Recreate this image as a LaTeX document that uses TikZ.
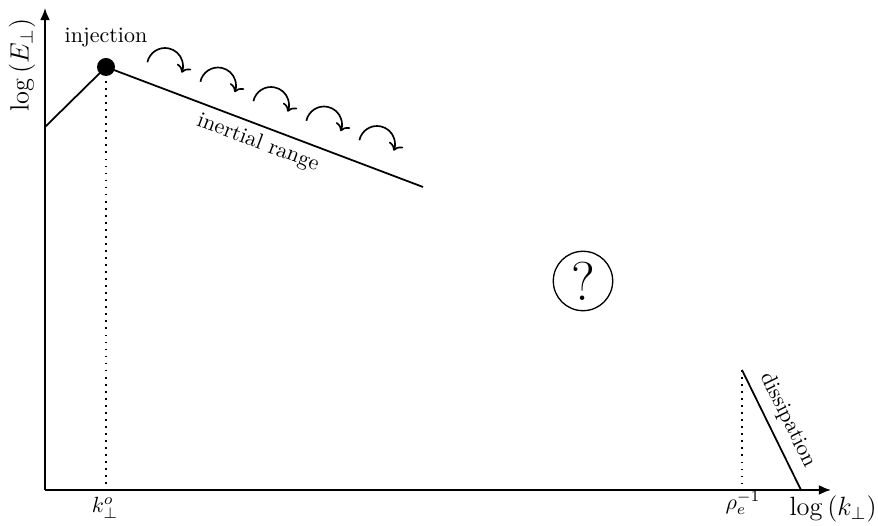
\documentclass[tikz,border=0pt]{standalone}
\usetikzlibrary{arrows.meta}
\begin{document}
\begin{tikzpicture}[x=0.4545pt,y=0.4545pt,
  axis/.style={thick,-{Latex[length=5.5pt,width=4.5pt]}},
  spec/.style={thick},
  guide/.style={thick,dash pattern=on 0.8pt off 2.4pt},
  cascade/.style={line width=0.75pt,-{To[length=3.2pt,width=7pt]}},
  lbl/.style={inner sep=0pt}]
\useasboundingbox (0,0) rectangle (878,526);
% points
\coordinate (O) at (45,36);
\coordinate (Ytip) at (45,518);
\coordinate (Xtip) at (831,36);
\coordinate (A) at (45,399);
\coordinate (P) at (106,459);
\coordinate (B) at (423,339);
\coordinate (Pf) at (106,36);
\coordinate (D1) at (742,156);
\coordinate (D2) at (801,36);
\coordinate (Df) at (742,36);
% axes
\draw[axis] (O) -- (Ytip);
\draw[axis] (O) -- (Xtip);
% guides
\draw[guide] (P) -- (Pf);
\draw[guide] (D1) -- (Df);
% spectrum
\draw[spec] (A) -- (P) -- (B);
\draw[spec] (D1) -- (D2);
\fill (P) circle[radius=9];
% cascade arrows
\foreach \i in {0,...,4}{
  \draw[cascade] ({165+53*\i+18*cos(168)},{460-19.5*\i+18*sin(168)})
     arc[start angle=168,end angle=-22,radius=18];
}
% labels
\node[lbl] (inj) at (106,488) {injection};
\node[lbl,rotate=90] (logE) at (22,461) {\large $\log\left(E_\perp\right)$};
\node[lbl] (ko) at (105,18) {$k_\perp^o$};
\node[lbl] (rho) at (743,23) {$\rho_e^{-1}$};
\node[lbl,anchor=east] (logk) at (877,17) {\large $\log\left(k_\perp\right)$};
\node[lbl,rotate=-63.8] (diss) at (788,106) {dissipation};
\node[lbl,rotate=-20.5] (inert) at (258,383) {inertial range};
\node[circle,draw,semithick,minimum size=27pt,inner sep=0pt] (q) at (583,245) {\Huge ?};
\end{tikzpicture}
\end{document}
